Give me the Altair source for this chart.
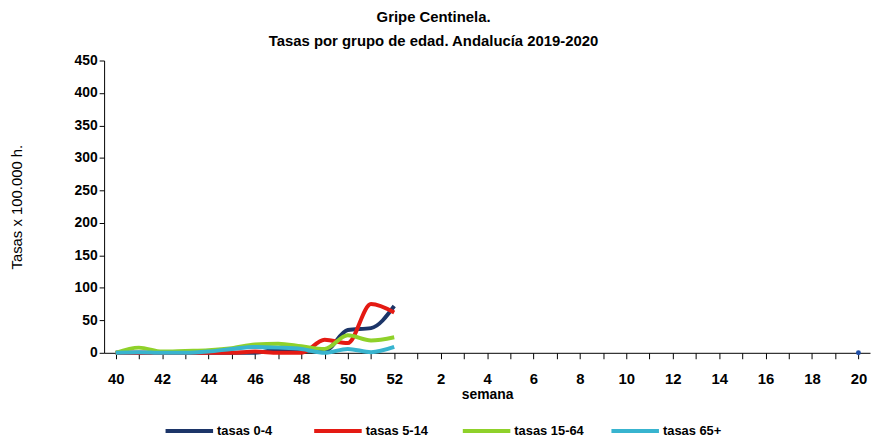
import json
import altair as alt
import pandas as pd

# Week sequence on the x axis (season 2019-2020)
week_ticks = list(range(40, 53)) + list(range(1, 21))
data_weeks = list(range(40, 53))

series_names = ["tasas 0-4", "tasas 5-14", "tasas 15-64", "tasas 65+"]
series_colors = ["#1c3568", "#e41a13", "#8fd12a", "#38b4cf"]

tasas_0_4 = [0, 0, 0, 0, 0, 0, 0, 5, 3, 3, 35, 38, 72]
tasas_5_14 = [0, 0, 0, 0, 0, 0, 2, 0, 0, 20, 15, 75, 62]
tasas_15_64 = [0, 8, 2, 3, 4, 7, 13, 14, 10, 6, 27, 19, 24]
tasas_65 = [0, 1, 0, 0, 2, 6, 9, 8, 6, 0, 6, 1, 9]

# isolated point at week 20
extra_week = [20]
extra_value = [0]

FONT = "Liberation Sans Narrow, Liberation Sans, Arial"

rows = []
for name, vals in zip(series_names, [tasas_0_4, tasas_5_14, tasas_15_64, tasas_65]):
    for w, v in zip(data_weeks, vals):
        rows.append({"serie": name, "idx": week_ticks.index(w), "valor": v, "orden": series_names.index(name)})
df = pd.DataFrame(rows)

df_pt = pd.DataFrame({"idx": [week_ticks.index(w) for w in extra_week], "valor": extra_value})

tick_labels = [str(w) if i % 2 == 0 else "" for i, w in enumerate(week_ticks)]
label_expr = json.dumps(tick_labels) + "[datum.value]"

x_enc = alt.X(
    "idx:Q",
    scale=alt.Scale(domain=[-0.5, len(week_ticks) - 0.5], nice=False, zero=False),
    axis=alt.Axis(
        values=list(range(len(week_ticks))),
        labelExpr=label_expr,
        title="semana",
        grid=False,
        tickSize=6,
        labelFontSize=15,
        labelFontWeight="bold",
        labelPadding=13,
        labelOverlap=False,
        titleFontSize=14,
        titleFontWeight="bold",
        titlePadding=1,
        domainColor="black",
        tickColor="black",
        labelColor="black",
        labelFlush=False,
    ),
)
y_enc = alt.Y(
    "valor:Q",
    scale=alt.Scale(domain=[0, 450], nice=False),
    axis=alt.Axis(
        values=list(range(0, 451, 50)),
        title="Tasas x 100.000 h.",
        grid=False,
        tickSize=5,
        labelFontSize=14,
        labelFontWeight="bold",
        labelOverlap=False,
        labelFlush=False,
        titleFontSize=15,
        titleFontWeight="normal",
        titlePadding=50,
        domainColor="black",
        tickColor="black",
        labelColor="black",
    ),
)

lines = alt.Chart(df).mark_line(strokeWidth=4, interpolate="monotone").encode(
    x=x_enc,
    y=y_enc,
    color=alt.Color(
        "serie:N",
        scale=alt.Scale(domain=series_names, range=series_colors),
        sort=series_names,
        legend=alt.Legend(
            title=None,
            orient="none",
            legendX=60,
            legendY=348,
            direction="horizontal",
            gridAlign="all",
            symbolType="stroke",
            symbolSize=2300,
            symbolStrokeWidth=4,
            labelFontSize=13,
            labelFontWeight="bold",
            labelOffset=2,
            columnPadding=19,
            labelColor="black",
        ),
    ),
    order=alt.Order("orden:Q"),
)

point = alt.Chart(df_pt).mark_point(filled=True, size=25, color="#1f4fa8", opacity=1).encode(
    x=x_enc, y=y_enc
)

chart = (
    alt.layer(lines, point)
    .properties(
        width=773,
        height=295,
        autosize=alt.AutoSizeParams(type="none"),
        padding={"left": 97, "top": 51, "right": 2, "bottom": 86},
        title=alt.Title(
            ["Gripe Centinela.", "Tasas por grupo de edad. Andalucía 2019-2020"],
            fontSize=15,
            fontWeight="bold",
            anchor="middle",
            dx=-54,
            offset=5,
            lineHeight=24,
            color="black",
        ),
    )
    .configure(font=FONT)
    .configure_view(stroke=None)
)

chart.save("out.html", embed_options={"renderer": "svg", "actions": False})
